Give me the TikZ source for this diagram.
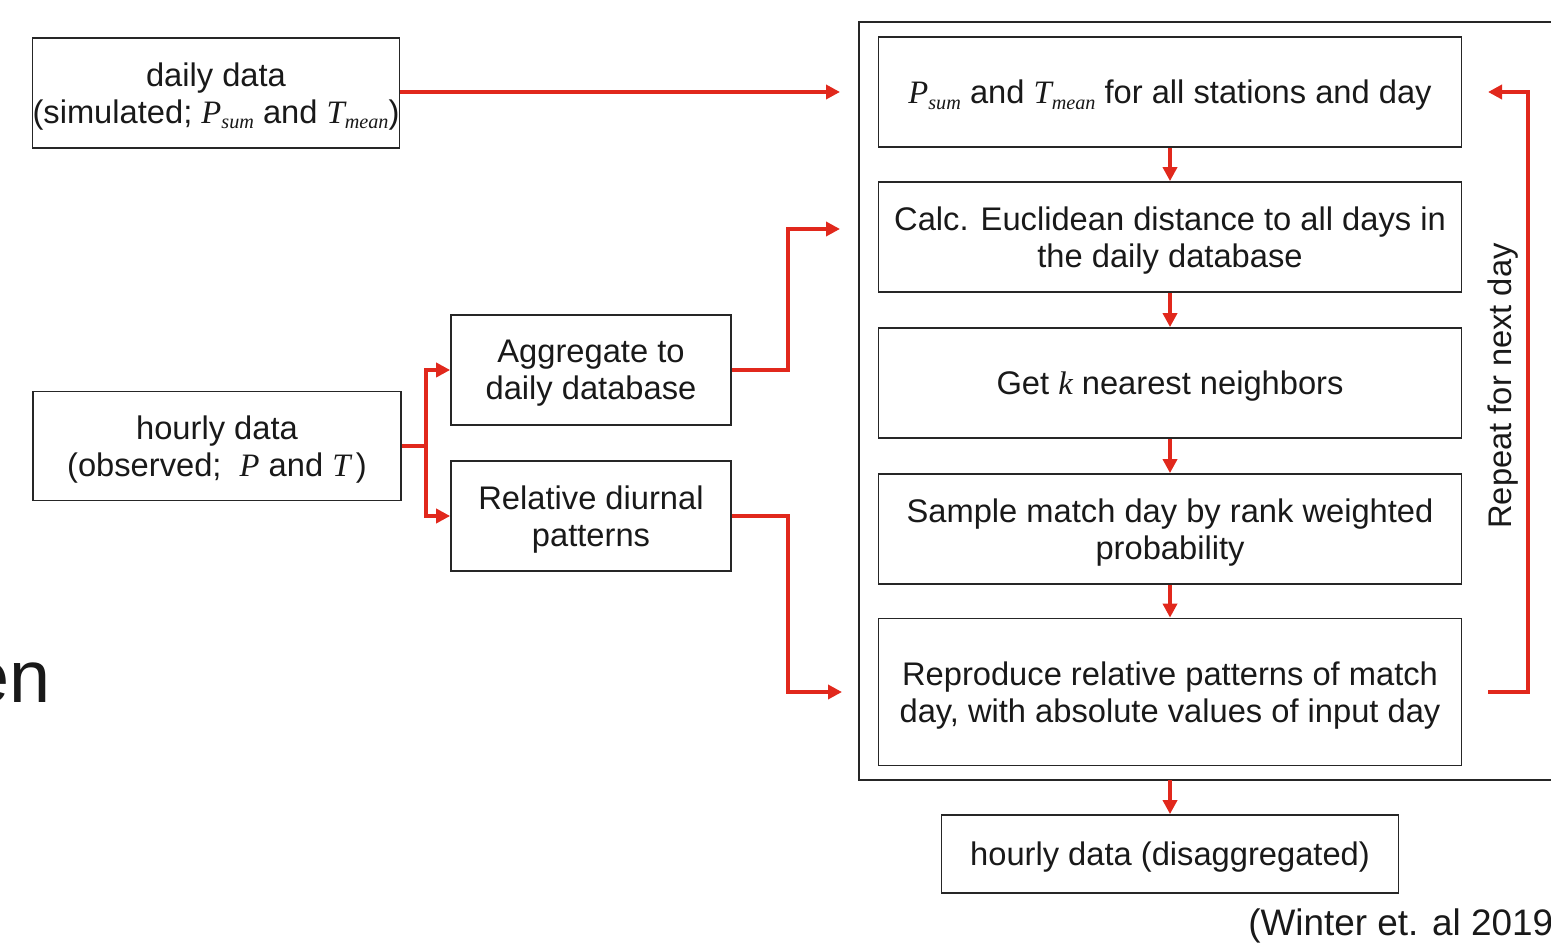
\documentclass[tikz,border=0pt]{standalone}
\usepackage{fontspec}
\setmainfont{Liberation Sans}
\newfontfamily\serifit[ItalicFont={Liberation Serif Italic}]{Liberation Serif}
\usetikzlibrary{arrows.meta,positioning}
\definecolor{flowred}{RGB}{225,40,28}
% italic variable with an optional small italic index
\newcommand\mvar[2]{{\serifit\itshape #1\raisebox{-3pt}{\fontsize{11.5}{12}\selectfont #2}}}

\begin{document}
\begin{tikzpicture}[
            x=0.02cm,
            y=-0.02cm,
            font=\fontsize{18.6}{21}\selectfont,
            box/.style={draw=black!85, line width=1pt, align=center, inner sep=0pt, text depth=0pt, text=black!90},
            data/.style={box, minimum width=7.32cm, minimum height=2.2cm},
            proc/.style={box, minimum width=5.6cm, minimum height=2.2cm},
            stage/.style={box, minimum width=11.66cm, minimum height=2.2cm},
            flow/.style={draw=flowred, line width=2.3pt, line join=miter, -{Triangle[length=0.28cm,width=0.28cm]}},
        ]
        \useasboundingbox (0,0) rectangle (1551,952);
        % leftover slide text at the edge
        \node[inner sep=0pt, anchor=base east, text=black!90, font=\fontsize{42}{44}\selectfont] (slide) at (51,702) {en};
        % LEFT: input data
        \node[data] (daily) at (216,93) {daily data\\(simulated; \mvar{P}{sum} and \mvar{T}{mean})};
        \node[data, minimum width=7.36cm, minimum height=2.18cm] (hourly) at (217,446) {hourly data\\(observed;~ \mvar{P}{} and \mvar{T}{}\,)};
        \node[proc] (agg) at (591,370) {Aggregate to\\daily database};
        \node[proc] (rel) at (591,516) {Relative diurnal\\patterns};
        % RIGHT: resampling loop
        \draw[black!85, line width=1pt] (859,22) rectangle (1600,780);
        \node[stage] (s1) at (1170,92) {\mvar{P}{sum} and \mvar{T}{mean} for all stations and day};
        \node[stage] (s2) at (1170,237) {Calc. Euclidean distance to all days in\\the daily database};
        \node[stage] (s3) at (1170,383) {Get \mvar{k}{} nearest neighbors};
        \node[stage] (s4) at (1170,529) {Sample match day by rank weighted\\probability};
        \node[stage, minimum height=2.94cm] (s5) at (1170,692) {Reproduce relative patterns of match\\day, with absolute values of input day};
        \node[box, minimum width=9.14cm, minimum height=1.56cm] (out) at (1170,854) {hourly data (disaggregated)};
        \node[inner sep=0pt, anchor=base west, text=black!90, font=\fontsize{21}{24}\selectfont] (cite) at (1248,935) {(Winter et. al 2019)};
        % arrow ends and corners
        \coordinate (in1) at (840,92);
        \coordinate (in2) at (840,229);
        \coordinate (in5) at (842,692);
        \coordinate (fork) at (426,446);
        \coordinate (c2) at (788,229);
        \coordinate (c5) at (788,692);
        \coordinate (o5) at (1488,692);
        \coordinate (loop) at (1528,92);
        \coordinate (o1) at (1488,92);
        \coordinate (framebot) at (1170,780);
        % connectors
        \draw[flow] (daily.east |- in1) -- (in1);
        \draw[flow] (hourly.east) -- (fork) |- (agg.west);
        \draw[flow] (fork) |- (rel.west);
        \draw[flow] (agg.east) -| (c2) -- (in2);
        \draw[flow] (rel.east) -| (c5) -- (in5);
        \draw[flow] (s1) -- (s2);
        \draw[flow] (s2) -- (s3);
        \draw[flow] (s3) -- (s4);
        \draw[flow] (s4) -- (s5);
        \draw[flow] (framebot) -- (out);
        \draw[flow] (o5) -| (loop) -- (o1);
        \node[rotate=90, inner sep=0pt, text=black!90] (repeat) at (1503,386) {Repeat for next day};
        \end{tikzpicture}
\end{document}
